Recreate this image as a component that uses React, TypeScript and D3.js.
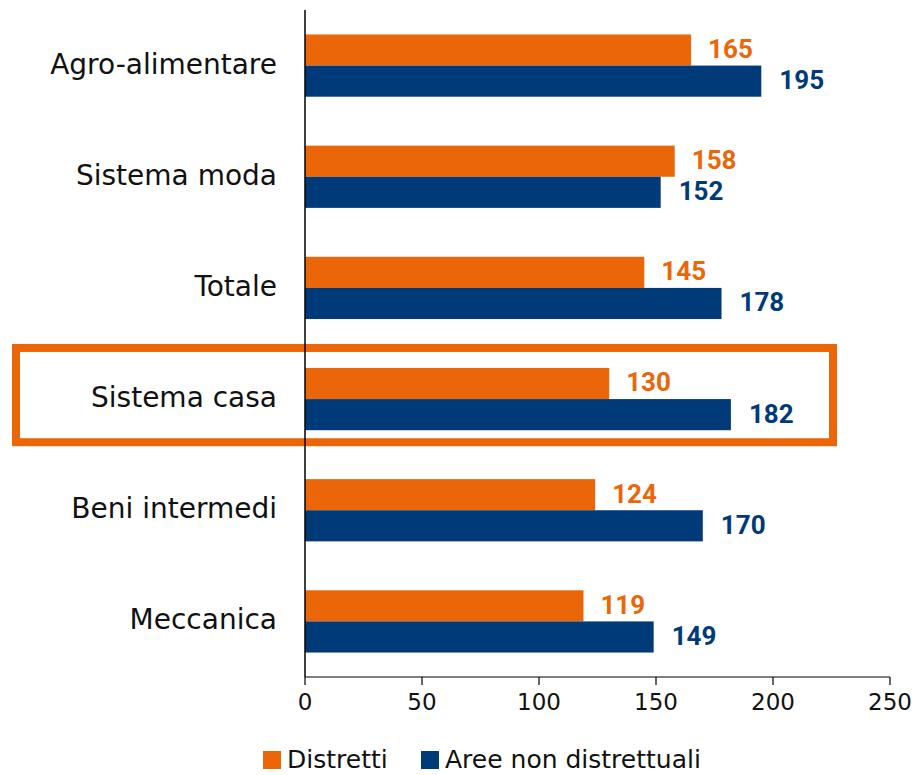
import React from "react";
import * as d3 from "d3";

const categories = ["Agro-alimentare", "Sistema moda", "Totale", "Sistema casa", "Beni intermedi", "Meccanica"];
const distretti = [165, 158, 145, 130, 124, 119];
const nonDistretti = [195, 152, 178, 182, 170, 149];
const seriesNames = ["Distretti", "Aree non distrettuali"];
const ticks = [0, 50, 100, 150, 200, 250];
const highlighted = "Sistema casa";

const ORANGE = "#EB6608";
const NAVY = "#003A78";
const FONT = "'Century Gothic', 'DejaVu Sans', sans-serif";

export default function App() {
  const W = 918, H = 775;
  const x0 = 305, x1 = 890, yTop = 10, yBot = 677;
  const x = d3.scaleLinear().domain([0, 250]).range([x0, x1]);
  const y = d3.scaleBand<string>().domain(categories).range([yTop, yBot]).paddingInner(0.44).paddingOuter(0.22);
  const bh = y.bandwidth() / 2;
  const hb = y(highlighted)!;
  return (
    <svg width={W} height={H} style={{ position: "absolute", left: 0, top: 0, background: "#fff" }}>
      {/* highlight box */}
      <rect x={16} y={hb - 20} width={817} height={y.bandwidth() + 32} fill="none" stroke={ORANGE} strokeWidth={8} />
      {categories.map((c, i) => {
        const yy = y(c)!;
        return (
          <g key={c}>
            <rect x={x(0)} y={yy} width={x(distretti[i]) - x(0)} height={bh} fill={ORANGE} />
            <rect x={x(0)} y={yy + bh} width={x(nonDistretti[i]) - x(0)} height={bh} fill={NAVY} />
            <text x={x(distretti[i]) + 17} y={yy + bh / 2 + 1} dominantBaseline="middle" fill={ORANGE}
              fontFamily="Roboto, sans-serif" fontWeight="bold" fontSize={26}>{distretti[i]}</text>
            <text x={x(nonDistretti[i]) + 18} y={yy + bh * 1.5 + 1} dominantBaseline="middle" fill={NAVY}
              fontFamily="Roboto, sans-serif" fontWeight="bold" fontSize={26}>{nonDistretti[i]}</text>
            <text x={277} y={yy + bh} dominantBaseline="middle" textAnchor="end" fill="#111"
              fontFamily={FONT} fontSize={28}>{c}</text>
          </g>
        );
      })}
      {/* axes */}
      <line x1={x0} x2={x0} y1={yTop} y2={yBot} stroke="#000" strokeWidth={1.5} />
      <line x1={x0} x2={x1} y1={yBot} y2={yBot} stroke="#000" strokeWidth={1.2} />
      {ticks.map(t => (
        <g key={t}>
          <line x1={x(t)} x2={x(t)} y1={yBot} y2={yBot + 8} stroke="#000" strokeWidth={1.2} />
          <text x={x(t)} y={yBot + 33} textAnchor="middle" fontFamily={FONT} fontSize={23} fill="#111">{t}</text>
        </g>
      ))}
      {/* legend */}
      <rect x={263} y={751} width={18} height={18} fill={ORANGE} />
      <text x={287} y={768} fontFamily={FONT} fontSize={25} fill="#111">{seriesNames[0]}</text>
      <rect x={421} y={751} width={18} height={18} fill={NAVY} />
      <text x={445} y={768} fontFamily={FONT} fontSize={25} fill="#111">{seriesNames[1]}</text>
    </svg>
  );
}
